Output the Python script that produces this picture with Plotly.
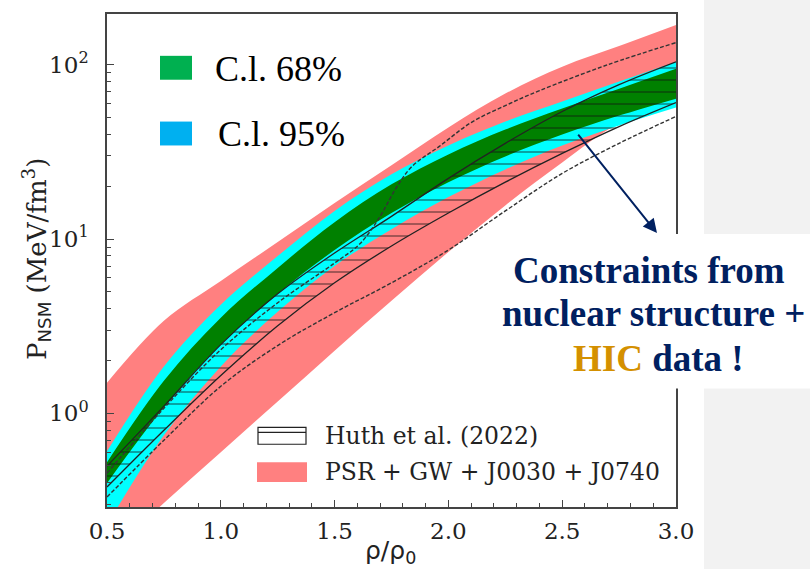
import plotly.graph_objects as go

# ---------------- data ----------------
rho = [0.5, 0.75, 1.0, 1.25, 1.5, 1.75, 2.0, 2.25, 2.5, 2.75, 3.0]

psr_upper = [1.50, 3.40, 5.75, 9.61, 16.1, 26.5, 43.7, 68.3, 97.4, 128, 169]
psr_lower = [0.154, 0.306, 0.599, 1.17, 2.29, 4.42, 8.43, 15.6, 27.5, 46.0, 58.3]

cl95_upper = [0.607, 1.86, 4.20, 7.99, 14.5, 23.5, 34.4, 47.2, 61.5, 80.0, 104]
cl95_lower = [0.229, 0.749, 1.86, 3.83, 7.01, 11.4, 17.4, 25.1, 34.4, 44.8, 56.8]

cl68_upper = [0.525, 1.54, 3.54, 6.83, 12.5, 20.6, 30.6, 42.5, 56.1, 72.9, 94.9]
cl68_lower = [0.398, 1.08, 2.48, 4.85, 8.65, 14.1, 21.2, 29.8, 39.8, 51.1, 63.9]

huth_upper = [0.498, 1.10, 2.48, 4.85, 8.32, 13.5, 22.3, 35.4, 53.9, 76.9, 104]
huth_lower = [0.378, 0.800, 1.65, 3.18, 5.61, 9.12, 14.1, 21.2, 31.0, 44.2, 60.7]

rho_dash_up = [0.5, 0.75, 1.0, 1.25, 1.5, 1.61, 1.70, 1.77, 1.84, 1.96, 2.1, 2.25, 2.4, 2.7, 3.0]
dash_up = [0.454, 1.07, 2.32, 4.31, 7.29, 9.36, 13.5, 19.6, 26.1, 34.0, 46.6, 58.3, 71.0, 100, 134]

rho_dash_low = [0.5, 0.75, 1.0, 1.25, 1.5, 1.75, 2.0, 2.25, 2.5, 2.75, 3.0]
dash_low = [0.331, 0.701, 1.43, 2.45, 3.78, 5.61, 8.65, 14.5, 23.8, 35.4, 50.5]

x_ticks = [0.5, 1.0, 1.5, 2.0, 2.5, 3.0]
y_ticks = [1, 10, 100]
y_ticktext = ["10<sup>0</sup>", "10<sup>1</sup>", "10<sup>2</sup>"]
y_minor = [0.3, 0.4, 0.5, 0.6, 0.7, 0.8, 0.9, 2, 3, 4, 5, 6, 7, 8, 9,
           20, 30, 40, 50, 60, 70, 80, 90]

# ---------------- styles ----------------
PINK = "#ff8080"
CYAN = "#00ffff"
GREEN = "#008000"
NAVY = "#002060"
W, H = 810, 569
L, R, T, B = 107, 134, 12, 62
PW, PH = W - L - R, H - T - B


def px(x):
    return (x - L) / PW


def py(y):
    return (H - B - y) / PH


fig = go.Figure()
SPL = dict(shape="spline", smoothing=1.0)


def band(lower, upper, color, pattern=None, edge=None):
    lw = edge[1] if edge else 0
    lc = edge[0] if edge else color
    fig.add_trace(go.Scatter(x=rho, y=lower, mode="lines",
                             line=dict(width=lw, color=lc, **SPL),
                             showlegend=False, hoverinfo="skip"))
    kw = dict(fill="tonexty")
    if pattern:
        kw["fillcolor"] = "rgba(0,0,0,0)"
        kw["fillpattern"] = pattern
    else:
        kw["fillcolor"] = color
    fig.add_trace(go.Scatter(x=rho, y=upper, mode="lines",
                             line=dict(width=lw, color=lc, **SPL),
                             showlegend=False, hoverinfo="skip", **kw))


band(psr_lower, psr_upper, PINK)
band(cl95_lower, cl95_upper, CYAN)
band(cl68_lower, cl68_upper, GREEN)
band(huth_lower, huth_upper, None,
     pattern=dict(shape="-", fgcolor="#111111", bgcolor="rgba(0,0,0,0)",
                  size=12, solidity=0.13),
     edge=("#222222", 1.3))

for xs, ys in ((rho_dash_up, dash_up), (rho_dash_low, dash_low)):
    fig.add_trace(go.Scatter(x=xs, y=ys, mode="lines",
                             line=dict(color="#333333", width=1.4, dash="4px,2px", **SPL),
                             showlegend=False, hoverinfo="skip"))

AX = "#444444"
TICKFONT = dict(family="DejaVu Serif", size=23, color="#222222")

fig.update_xaxes(range=[0.5, 3.0], tickvals=x_ticks, tickformat=".1f",
                 ticks="inside", ticklen=7, tickwidth=1.2, tickcolor=AX,
                 minor=dict(ticks="inside", ticklen=4, tickwidth=1, tickcolor=AX,
                            dtick=0.1, tick0=0.5),
                 showline=True, linecolor=AX, linewidth=1.5, mirror=True,
                 showgrid=False, zeroline=False, tickfont=TICKFONT,
                 ticklabelstandoff=3)
fig.update_yaxes(type="log", range=[-0.537, 2.291], tickvals=y_ticks,
                 ticktext=y_ticktext,
                 ticks="inside", ticklen=7, tickwidth=1.2, tickcolor=AX,
                 minor=dict(ticks="inside", ticklen=4, tickwidth=1, tickcolor=AX,
                            tickvals=y_minor),
                 showline=True, linecolor=AX, linewidth=1.5, mirror=True,
                 showgrid=False, zeroline=False, tickfont=TICKFONT,
                 ticklabelstandoff=12)

shapes = [
    dict(type="rect", xref="paper", yref="paper", x0=px(704), x1=px(815),
         y0=py(575), y1=py(-5), fillcolor="#f2f2f2", line=dict(width=0), layer="below"),
    dict(type="rect", xref="paper", yref="paper", x0=px(492), x1=px(815),
         y0=py(388), y1=py(233), fillcolor="white", line=dict(width=0), layer="above"),
    dict(type="rect", xref="paper", yref="paper", x0=px(160), x1=px(192),
         y0=py(78), y1=py(54), fillcolor="#00b050", line=dict(width=0), layer="above"),
    dict(type="rect", xref="paper", yref="paper", x0=px(160), x1=px(192),
         y0=py(144), y1=py(120), fillcolor="#00b0f0", line=dict(width=0), layer="above"),
    dict(type="rect", xref="paper", yref="paper", x0=px(258), x1=px(306),
         y0=py(444), y1=py(427), fillcolor="white", line=dict(width=1.2, color="#222222"),
         layer="above"),
    dict(type="line", xref="paper", yref="paper", x0=px(258), x1=px(306),
         y0=py(432), y1=py(432), line=dict(width=1.2, color="#222222"), layer="above"),
    dict(type="rect", xref="paper", yref="paper", x0=px(257), x1=px(307),
         y0=py(482), y1=py(462), fillcolor=PINK, line=dict(width=0), layer="above"),
]

ann = []


def text(x, y, s, size, family, color="#000000", anchor="left"):
    ann.append(dict(x=px(x), y=py(y), xref="paper", yref="paper", text=s,
                    showarrow=False, xanchor=anchor, yanchor="middle",
                    font=dict(size=size, family=family, color=color)))


text(213, 67, "C.l. 68%", 36, "Liberation Serif")
text(216, 132, "C.l. 95%", 36, "Liberation Serif")
text(323, 436, "Huth et al. (2022)", 23.5, "DejaVu Serif", "#222222")
text(323, 472, "PSR + GW + J0030 + J0740", 23.5, "DejaVu Serif", "#222222")
text(649, 270, "<b>Constraints from</b>", 37, "Liberation Serif", NAVY, "center")
text(653, 313, "<b>nuclear structure +</b>", 37, "Liberation Serif", NAVY, "center")
text(658, 358, "<b><span style='color:#d49000'>HIC</span> data !</b>", 37,
     "Liberation Serif", NAVY, "center")
text(390, 552, "ρ/ρ<sub>0</sub>", 25, "DejaVu Sans", "#222222", "center")

ann.append(dict(x=px(36), y=py(258), xref="paper", yref="paper",
                text="P<sub><span style='font-family:DejaVu Sans'>NSM</span></sub> (MeV/fm<sup>3</sup>)",
                textangle=-90, showarrow=False, xanchor="center", yanchor="middle",
                font=dict(size=26, family="DejaVu Serif", color="#222222")))

ann.append(dict(x=px(657), y=py(232), xref="paper", yref="paper", text="",
                showarrow=True, ax=-80, ay=-100, arrowhead=2, arrowsize=1.4,
                arrowwidth=2, arrowcolor=NAVY, standoff=0))

fig.update_layout(width=W, height=H, margin=dict(l=L, r=R, t=T, b=B),
                  paper_bgcolor="white", plot_bgcolor="white",
                  shapes=shapes, annotations=ann, showlegend=False)

fig.write_html("out.html")
